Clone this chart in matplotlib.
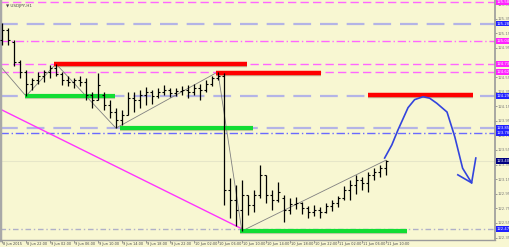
# USDJPY H1 chart with support / resistance levels and a hand drawn forecast

import numpy as np
import matplotlib
matplotlib.use("Agg")
import matplotlib.pyplot as plt

# hourly bars, 8 Jun 18:00 .. 11 Jun 10:00 (2015)
highs = [125.29, 125.22, 125.06, 124.78, 124.65, 124.54, 124.62, 124.65, 124.72, 124.73,
         124.62, 124.56, 124.54, 124.56, 124.54, 124.34, 124.60, 124.34, 124.24, 124.13,
         124.10, 124.34, 124.34, 124.37, 124.41, 124.37, 124.40, 124.44, 124.40, 124.40,
         124.43, 124.44, 124.45, 124.45, 124.51, 124.56, 124.62, 124.60, 123.17, 123.07,
         123.14, 122.93, 123.00, 123.34, 123.21, 123.00, 123.11, 122.93, 122.89, 122.91,
         122.84, 122.78, 122.80, 122.77, 122.82, 122.86, 122.92, 123.06, 123.14, 123.21,
         123.18, 123.25, 123.30, 123.34, 123.41]
lows = [124.99, 124.99, 124.70, 124.54, 124.29, 124.37, 124.45, 124.48, 124.54, 124.56,
        124.44, 124.43, 124.40, 124.43, 124.24, 124.13, 124.24, 124.10, 123.99, 123.85,
        123.89, 124.03, 124.07, 124.13, 124.17, 124.18, 124.26, 124.30, 124.28, 124.29,
        124.30, 124.26, 124.30, 124.24, 124.34, 124.43, 124.51, 122.80, 122.62, 122.51,
        122.44, 122.66, 122.70, 122.89, 122.82, 122.73, 122.84, 122.56, 122.67, 122.74,
        122.67, 122.62, 122.65, 122.62, 122.69, 122.71, 122.77, 122.86, 122.86, 122.95,
        123.00, 122.98, 123.14, 123.18, 123.21]
opens = [125.06, 125.19, 125.03, 124.76, 124.62, 124.45, 124.51, 124.56, 124.62, 124.67,
         124.59, 124.51, 124.48, 124.51, 124.48, 124.30, 124.24, 124.30, 124.17, 124.07,
         123.96, 124.03, 124.26, 124.24, 124.30, 124.34, 124.29, 124.34, 124.37, 124.33,
         124.36, 124.37, 124.34, 124.40, 124.37, 124.45, 124.54, 124.56, 123.00, 122.86,
         122.73, 122.93, 122.80, 122.93, 123.21, 122.93, 122.86, 122.89, 122.73, 122.81,
         122.82, 122.76, 122.70, 122.73, 122.70, 122.78, 122.82, 122.89, 123.00, 123.07,
         123.14, 123.10, 123.21, 123.25, 123.30]
closes = [125.19, 125.06, 124.76, 124.62, 124.45, 124.51, 124.56, 124.62, 124.67, 124.59,
          124.51, 124.48, 124.51, 124.48, 124.30, 124.24, 124.44, 124.17, 124.07, 123.96,
          124.03, 124.26, 124.24, 124.30, 124.34, 124.29, 124.34, 124.37, 124.33, 124.36,
          124.37, 124.34, 124.40, 124.37, 124.45, 124.54, 124.56, 123.00, 122.86, 122.73,
          122.93, 122.80, 122.93, 123.21, 122.93, 122.86, 122.98, 122.73, 122.81, 122.82,
          122.76, 122.70, 122.73, 122.70, 122.78, 122.82, 122.89, 123.00, 123.07, 123.14,
          123.10, 123.21, 123.25, 123.30, 123.40]

date_labels = ["8 Jun 2015", "8 Jun 22:00", "9 Jun 02:00", "9 Jun 06:00", "9 Jun 10:00",
               "9 Jun 14:00", "9 Jun 18:00", "9 Jun 22:00", "10 Jun 02:00", "10 Jun 06:00",
               "10 Jun 10:00", "10 Jun 14:00", "10 Jun 18:00", "10 Jun 22:00", "11 Jun 02:00",
               "11 Jun 06:00", "11 Jun 10:00"]

# horizontal levels: price, colour, dash style, label colour
level_prices = [125.58, 125.28, 125.04, 124.73, 124.62, 124.29, 123.85, 123.78, 123.40, 122.47]
level_colors = ["#ff66ff", "#b4b4e6", "#ff66ff", "#ff66ff", "#ff66ff", "#b4b4e6", "#b4b4e6",
                "#6a6aff", "#e6e6c8", "#b0b0c8"]
level_styles = [(0, (6, 3)), (0, (8, 4)), (0, (6, 2, 1, 2)), (0, (6, 3)), (0, (6, 3)),
                (0, (8, 4)), (0, (8, 4)), (0, (6, 2, 1, 2)), "-", (0, (4, 2, 1, 2))]
level_widths = [1.0, 1.6, 1.0, 1.0, 1.0, 1.6, 1.6, 1.0, 0.8, 1.0]
label_colors = ["#ff22ff", "#2222ff", "#ff22ff", "#ff22ff", "#ff22ff", "#2222ff", "#2222ff",
                "#2222ff", "#000080", "#2222ff"]

# zones (bar from, bar to, price)
red_zones = [(8.7, 40.8, 124.73), (35.7, 53.2, 124.61), (61.0, 78.5, 124.30)]
green_zones = [(3.8, 18.8, 124.29), (19.7, 41.8, 123.85), (39.7, 67.5, 122.44)]

# zigzag through the swing points
zz_x = [-0.3, 4, 9, 19, 36, 40, 64]
zz_y = [124.70, 124.29, 124.73, 123.85, 124.62, 122.44, 123.41]

# falling magenta trendline
tl_x = [-0.3, 40]
tl_y = [124.11, 122.47]

# hand drawn forecast
fc_x = [63.8, 65.0, 66.0, 67.7, 68.8, 70.2, 71.3, 72.5, 74.2, 75.5, 76.8, 78.3]
fc_y = [123.44, 123.62, 123.82, 124.13, 124.24, 124.28, 124.26, 124.19, 124.07, 123.73, 123.30, 123.10]
arrow_x = [76.0, 78.3, 79.0]
arrow_y = [123.21, 123.10, 123.44]

bg = "#f8f7d2"
fig = plt.figure(figsize=(5.10, 2.47), dpi=100, facecolor=bg)
ax = fig.add_axes([0.0, 7 / 247, 495 / 510, 240 / 247], facecolor=bg)

n = len(highs)
xs = np.arange(n)
ax.set_xlim(-0.33, 82.2)
ax.set_ylim(122.317, 125.605)

# levels
for p, c, ls, lw in zip(level_prices, level_colors, level_styles, level_widths):
    ax.axhline(p, color=c, linestyle=ls, linewidth=lw, zorder=1)

# trend lines
ax.plot(tl_x, tl_y, color="#ff33ff", linewidth=1.0, zorder=2)
ax.plot(zz_x, zz_y, color="#808080", linewidth=0.6, zorder=2)

# zones
for x0, x1, p in red_zones:
    ax.plot([x0, x1], [p - 0.012, p - 0.012], color="#8a8a6a", linewidth=3.2, alpha=0.5,
            solid_capstyle="butt", zorder=3)
    ax.plot([x0, x1], [p, p], color="#ff0000", linewidth=3.2, solid_capstyle="butt", zorder=4)
for x0, x1, p in green_zones:
    ax.plot([x0, x1], [p - 0.012, p - 0.012], color="#8a8a6a", linewidth=3.0, alpha=0.4,
            solid_capstyle="butt", zorder=3)
    ax.plot([x0, x1], [p, p], color="#11dd33", linewidth=3.0, solid_capstyle="butt", zorder=4)

# OHLC bars
ax.vlines(xs, lows, highs, color="black", linewidth=0.9, zorder=5)
ax.hlines(opens, xs - 0.35, xs, color="black", linewidth=0.8, zorder=5)
ax.hlines(closes, xs, xs + 0.35, color="black", linewidth=0.8, zorder=5)

# forecast curve
ax.plot(fc_x, fc_y, color="#3344dd", linewidth=1.2, zorder=6)
ax.plot(arrow_x, arrow_y, color="#3344dd", linewidth=1.2, zorder=6)

# right price scale
ticks = np.round(np.arange(122.35, 125.56, 0.2), 2)
ax.yaxis.tick_right()
ax.set_yticks(ticks)
ax.set_yticklabels(["%.2f" % t for t in ticks], fontsize=2.7, color="#555555")
ax.tick_params(axis="y", length=1.2, width=0.5, pad=0.6, colors="#777777")

# coloured level labels
ytr = ax.get_yaxis_transform()
for p, c in zip(level_prices, label_colors):
    ax.text(1.003, p, "%.2f" % p, transform=ytr, fontsize=2.7, color="white",
            va="center", ha="left", clip_on=False,
            bbox=dict(boxstyle="square,pad=0.2", facecolor=c, edgecolor="none"))

# time scale
ax.set_xticks(np.arange(0, n, 4))
ax.set_xticklabels([])
ax.tick_params(axis="x", length=2, width=0.5, colors="#777777", direction="out")
xtr = ax.get_xaxis_transform()
for i, lab in zip(range(0, n, 4), date_labels):
    ax.text(i + 0.2, -0.010, lab, transform=xtr, fontsize=2.5, color="#444444",
            ha="left", va="top", clip_on=False)

# frame
ax.spines["top"].set_visible(False)
ax.spines["left"].set_color("#a8a8a8")
ax.spines["left"].set_linewidth(2.5)
ax.spines["right"].set_color("#9a9a9a")
ax.spines["right"].set_linewidth(1.2)
ax.spines["bottom"].set_color("#9a9a9a")
ax.spines["bottom"].set_linewidth(1.0)

# symbol caption
ax.text(0.012, 0.985, "\u25bc USDJPY,H1", transform=ax.transAxes, fontsize=3.0,
        color="#444444", ha="left", va="top")

fig.savefig("out.png", dpi=100, facecolor=bg)
